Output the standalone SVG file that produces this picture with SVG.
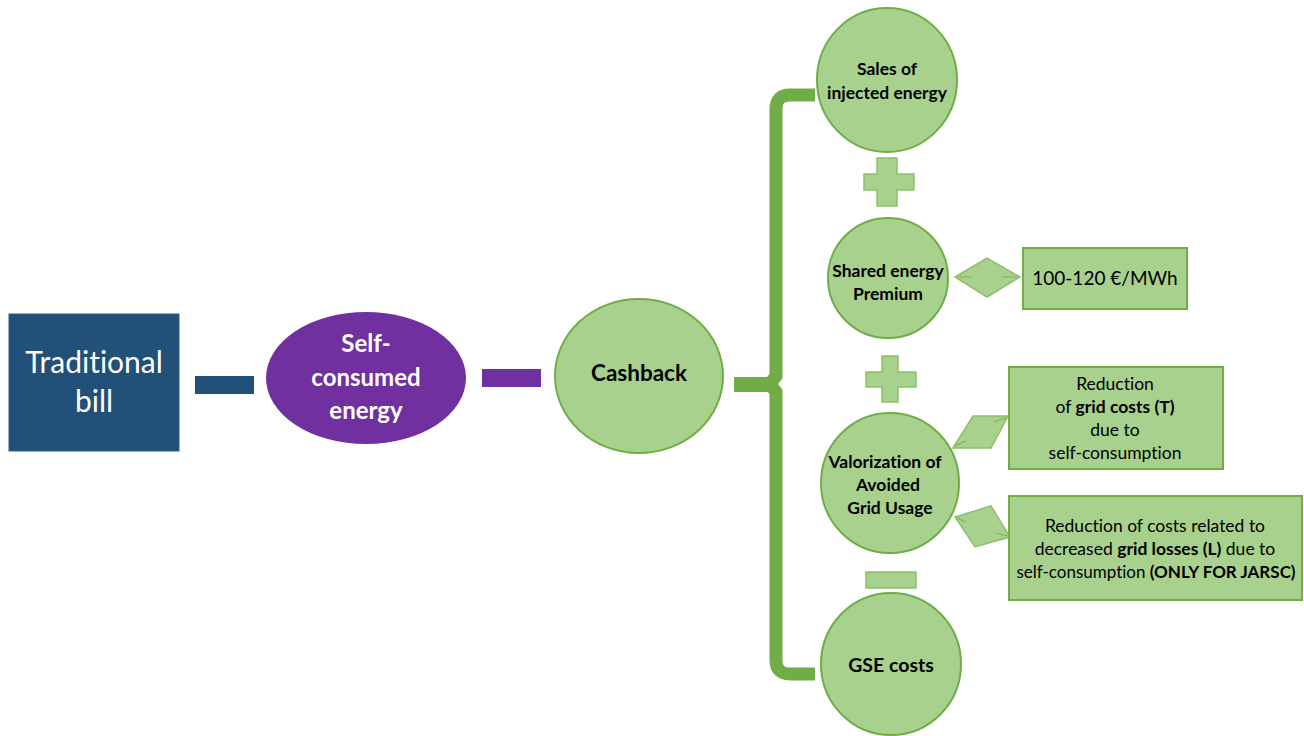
<svg xmlns="http://www.w3.org/2000/svg" width="1304" height="736" viewBox="0 0 1304 736">
  <defs>
    <style>
      .txt { font-family: Lato, "Open Sans", "Liberation Sans", sans-serif; text-anchor: middle; font-variant-ligatures: none; }
      .b { font-weight: bold; }
      .gnode { fill: #A9D18E; stroke: #70AD47; stroke-width: 2; }
      .gshape { fill: #A9D18E; stroke: #8CC06A; stroke-width: 1.5; }
      .tip { stroke: #7DB556; stroke-width: 1.2; fill: none; }
      .dark { fill: #000; }
      .white { fill: #fff; }
    </style>
  </defs>
  <rect width="1304" height="736" fill="#fff"/>

  <!-- connectors: bars, brace, operators, link shapes -->
  <g id="connectors">
    <rect x="195" y="376" width="59" height="18" fill="#215078"/>
    <rect x="482" y="369" width="59" height="18" fill="#7030A0"/>
    <!-- brace -->
    <rect x="734" y="377" width="42" height="15" fill="#70AD47"/>
    <path d="M815 95 H790 Q776 95 776 109 V376 L770 384 L776 392 V660 Q776 674 790 674 H815" fill="none" stroke="#70AD47" stroke-width="13"/>
    <!-- plus signs -->
    <path class="gshape" d="M877 158 H897 V174 H914 V190 H897 V206 H877 V190 H864 V174 H877 Z"/>
    <path class="gshape" d="M882 356 H898 V372 H916 V387 H898 V402 H882 V387 H866 V372 H882 Z"/>
    <!-- minus sign -->
    <rect class="gshape" x="866" y="572" width="50" height="16"/>
    <!-- diamond link -->
    <polygon class="gshape" points="955,277 987,258 1020,277 987,297"/>
    <path class="tip" d="M958 277 H972 M1002 277 H1017"/>
    <!-- parallelogram links -->
    <polygon class="gshape" points="953,448 973,416 1008,416 991,448"/>
    <path class="tip" d="M955 446 L966 441 M1006 418 L994 422"/>
    <polygon class="gshape" points="955,517 991,506 1010,537 975,547"/>
    <path class="tip" d="M957 518 L966 522 M1008 536 L996 533"/>
  </g>

  <g id="traditional-bill">
    <rect x="9" y="314" width="170" height="137" fill="#215078" stroke="#2E5E8A" stroke-width="1"/>
    <text class="txt white" x="94" y="373" font-size="30">Traditional</text>
    <text class="txt white" x="94" y="412" font-size="30">bill</text>
  </g>

  <g id="self-consumed-energy">
    <ellipse cx="366" cy="378" rx="100" ry="66" fill="#7030A0"/>
    <text class="txt b white" x="366" y="352" font-size="24">Self-</text>
    <text class="txt b white" x="366" y="386" font-size="24">consumed</text>
    <text class="txt b white" x="366" y="419" font-size="24">energy</text>
  </g>

  <g id="cashback">
    <ellipse class="gnode" cx="639" cy="376" rx="84" ry="77"/>
    <text class="txt b dark" x="639" y="381" font-size="22.5">Cashback</text>
  </g>

  <g id="sales-injected-energy">
    <ellipse class="gnode" cx="887" cy="80" rx="70" ry="72"/>
    <text class="txt b dark" x="887" y="75" font-size="17.5">Sales of</text>
    <text class="txt b dark" x="887" y="99" font-size="17.5">injected energy</text>
  </g>

  <g id="shared-energy-premium">
    <ellipse class="gnode" cx="888" cy="278" rx="60" ry="60"/>
    <text class="txt b dark" x="888" y="277" font-size="17.5">Shared energy</text>
    <text class="txt b dark" x="888" y="300" font-size="17.5">Premium</text>
  </g>

  <g id="premium-value">
    <rect class="gnode" x="1023" y="248" width="164" height="61"/>
    <text class="txt dark" x="1105" y="285" font-size="19">100-120 €/MWh</text>
  </g>

  <g id="avoided-grid-usage">
    <ellipse class="gnode" cx="890" cy="483" rx="69" ry="70"/>
    <text class="txt b dark" x="885" y="468" font-size="17.5">Valorization of</text>
    <text class="txt b dark" x="888" y="491" font-size="17.5">Avoided</text>
    <text class="txt b dark" x="890" y="514" font-size="17.5">Grid Usage</text>
  </g>

  <g id="grid-costs">
    <rect class="gnode" x="1009" y="367" width="214" height="102"/>
    <text class="txt dark" x="1115" y="390" font-size="17.5">Reduction</text>
    <text class="txt dark" x="1115" y="413" font-size="17.5">of <tspan class="b">grid costs (T)</tspan></text>
    <text class="txt dark" x="1115" y="436" font-size="17.5">due to</text>
    <text class="txt dark" x="1115" y="459" font-size="17.5">self-consumption</text>
  </g>

  <g id="grid-losses">
    <rect class="gnode" x="1009" y="496" width="293" height="104"/>
    <text class="txt dark" x="1155" y="532" font-size="17.5">Reduction of costs related to</text>
    <text class="txt dark" x="1155" y="555" font-size="17.5">decreased <tspan class="b">grid losses (L)</tspan> due to</text>
    <text class="txt dark" x="1156" y="578" font-size="17">self-consumption <tspan class="b">(ONLY FOR JARSC)</tspan></text>
  </g>

  <g id="gse-costs">
    <ellipse class="gnode" cx="891" cy="664" rx="70" ry="71"/>
    <text class="txt b dark" x="891" y="672" font-size="19.5">GSE costs</text>
  </g>
</svg>
